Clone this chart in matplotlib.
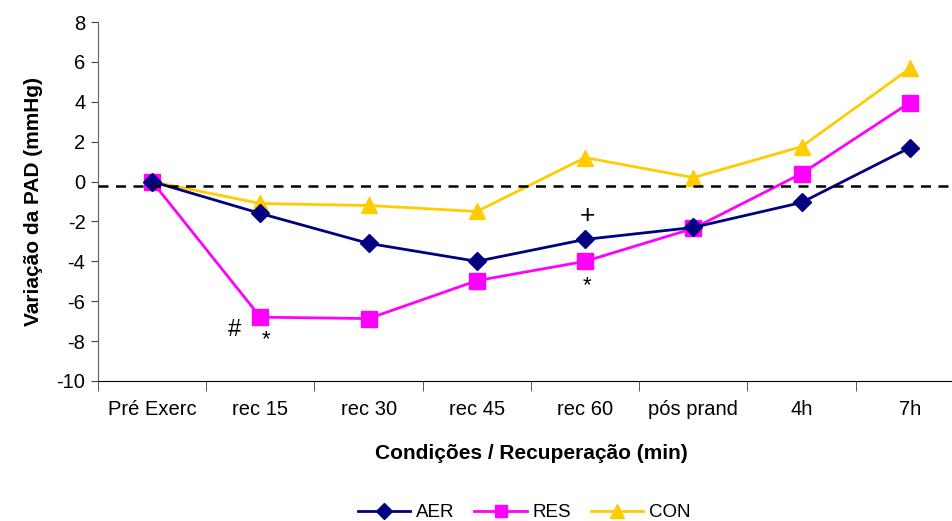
import matplotlib
matplotlib.use("Agg")
import matplotlib.pyplot as plt

plt.rcParams['font.family'] = ['Liberation Sans', 'DejaVu Sans']
plt.rcParams['axes.unicode_minus'] = False

categories = ["Pré Exerc", "rec 15", "rec 30", "rec 45", "rec 60", "pós prand", "4h", "7h"]
aer = [0.0, -1.6, -3.1, -4.0, -2.9, -2.3, -1.05, 1.7]
res = [0.0, -6.8, -6.87, -4.97, -4.0, -2.35, 0.4, 3.96]
con = [0.0, -1.1, -1.2, -1.5, 1.2, 0.2, 1.75, 5.67]
baseline = -0.2

fig = plt.figure(figsize=(9.53, 5.21), dpi=100)
ax = fig.add_axes([98/953, 140/521, 866/953, 359/521])

x = list(range(len(categories)))
ax.plot(x, aer, color='#000080', lw=2.0, marker='D', ms=9.5, label='AER', zorder=4)
ax.plot(x, res, color='#FF00FF', lw=2.0, marker='s', ms=11, label='RES', zorder=3)
ax.plot(x, con, color='#FFCC00', lw=2.0, marker='^', ms=12, label='CON', zorder=2)
ax.axhline(baseline, color='black', lw=1.8, ls=(0, (4, 3)), zorder=5)

ax.set_xlim(-0.5, len(categories) - 0.5)
ax.set_ylim(-10, 8)
ax.set_yticks(range(-10, 9, 2))
ax.set_xticks(x)
ax.set_xticklabels(categories, fontsize=14.5)
ax.set_xticks([i - 0.5 for i in range(len(categories) + 1)], minor=True)
ax.tick_params(axis='x', which='major', length=0, pad=14)
ax.tick_params(axis='x', which='minor', length=7, direction='out', color='#404040')
ax.tick_params(axis='y', length=5, direction='out', labelsize=14.5, color='#404040', pad=4)

for s in ['top', 'right']:
    ax.spines[s].set_visible(False)
ax.spines['left'].set_color('#606060')
ax.spines['bottom'].set_color('black')

ax.set_ylabel('Variação da PAD (mmHg)', fontsize=15, fontweight='bold', labelpad=10)
ax.set_xlabel('Condições / Recuperação (min)', fontsize=15, fontweight='bold', labelpad=18)

# significance marks
ax.text(0.76, -7.45, '#', fontsize=17, ha='center', va='center')
ax.text(1.05, -7.95, '*', fontsize=16, ha='center', va='center')
ax.text(4.02, -1.75, '+', fontsize=19, ha='center', va='center')
ax.text(4.02, -5.2, '*', fontsize=16, ha='center', va='center')

fig.legend(loc='lower center', bbox_to_anchor=(0.55, -0.033), ncol=3, frameon=False,
           fontsize=13.5, handlelength=2.8, columnspacing=1.05, handletextpad=0.3,
           markerscale=0.85)

fig.savefig('out.png', dpi=100)
